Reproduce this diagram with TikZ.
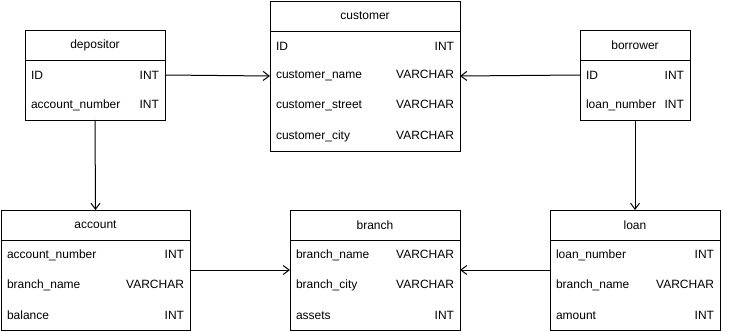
\documentclass[tikz,border=0pt]{standalone}
\usepackage{fontspec}
\setmainfont{Liberation Sans}
\usetikzlibrary{arrows.meta, positioning}

\begin{document}
\begin{tikzpicture}[
      x=1pt, y=-1pt,
      font=\fontsize{12}{14}\selectfont,
      every node/.style={outer sep=0pt},
      hdr/.style={rectangle, draw, line width=1pt, minimum height=30pt, inner sep=0pt, anchor=north west},
      row/.style={rectangle, minimum height=30pt, inner xsep=6pt, inner ysep=0pt, align=left},
      tbl/.style={draw, line width=1pt},
      arrow/.style={-{Straight Barb[length=6pt, width=9pt]}, line width=1pt}
    ]
    \useasboundingbox (0,0) rectangle (731,332);

    % customer
    \node[hdr, minimum width=190pt] (customer) at (270,1) {customer};
    \node[row, text width=178pt, below=0pt of customer] (cust-id) {ID\hfill INT};
    \node[row, text width=178pt, below=0pt of cust-id] (cust-name) {customer\_name\hfill VARCHAR};
    \node[row, text width=178pt, below=0pt of cust-name] (cust-street) {customer\_street\hfill VARCHAR};
    \node[row, text width=178pt, below=0pt of cust-street] (cust-city) {customer\_city\hfill VARCHAR};
    \draw[tbl] (customer.south west) rectangle (cust-city.south east);

    % depositor
    \node[hdr, minimum width=140pt] (depositor) at (25,30) {depositor};
    \node[row, text width=128pt, below=0pt of depositor] (dep-id) {ID\hfill INT};
    \node[row, text width=128pt, below=0pt of dep-id] (dep-acc) {account\_number\hfill INT};
    \draw[tbl] (depositor.south west) rectangle (dep-acc.south east);

    % borrower
    \node[hdr, minimum width=110pt] (borrower) at (580,30) {borrower};
    \node[row, text width=98pt, below=0pt of borrower] (bor-id) {ID\hfill INT};
    \node[row, text width=98pt, below=0pt of bor-id] (bor-loan) {loan\_number\hfill INT};
    \draw[tbl] (borrower.south west) rectangle (bor-loan.south east);

    % account
    \node[hdr, minimum width=189pt] (account) at (1,210) {account};
    \node[row, text width=177pt, below=0pt of account] (acc-num) {account\_number\hfill INT};
    \node[row, text width=177pt, below=0pt of acc-num] (acc-branch) {branch\_name\hfill VARCHAR};
    \node[row, text width=177pt, below=0pt of acc-branch] (acc-bal) {balance\hfill INT};
    \draw[tbl] (account.south west) rectangle (acc-bal.south east);

    % branch
    \node[hdr, minimum width=170pt] (branch) at (290,210) {branch};
    \node[row, text width=158pt, below=0pt of branch] (br-name) {branch\_name\hfill VARCHAR};
    \node[row, text width=158pt, below=0pt of br-name] (br-city) {branch\_city\hfill VARCHAR};
    \node[row, text width=158pt, below=0pt of br-city] (br-assets) {assets\hfill INT};
    \draw[tbl] (branch.south west) rectangle (br-assets.south east);

    % loan
    \node[hdr, minimum width=170pt] (loan) at (550,210) {loan};
    \node[row, text width=158pt, below=0pt of loan] (loan-num) {loan\_number\hfill INT};
    \node[row, text width=158pt, below=0pt of loan-num] (loan-branch) {branch\_name\hfill VARCHAR};
    \node[row, text width=158pt, below=0pt of loan-branch] (loan-amt) {amount\hfill INT};
    \draw[tbl] (loan.south west) rectangle (loan-amt.south east);

    \draw[arrow] (dep-id.east) -- (cust-name.west);
    \draw[arrow] (bor-id.west) -- (cust-name.east);
    \draw[arrow] (dep-acc.south) -- (account.north);
    \draw[arrow] (bor-loan.south) -- (loan.north);
    \draw[arrow] (acc-branch.north east) -- (br-name.south west);
    \draw[arrow] (loan-num.south west) -- (br-name.south east);
  \end{tikzpicture}
\end{document}
